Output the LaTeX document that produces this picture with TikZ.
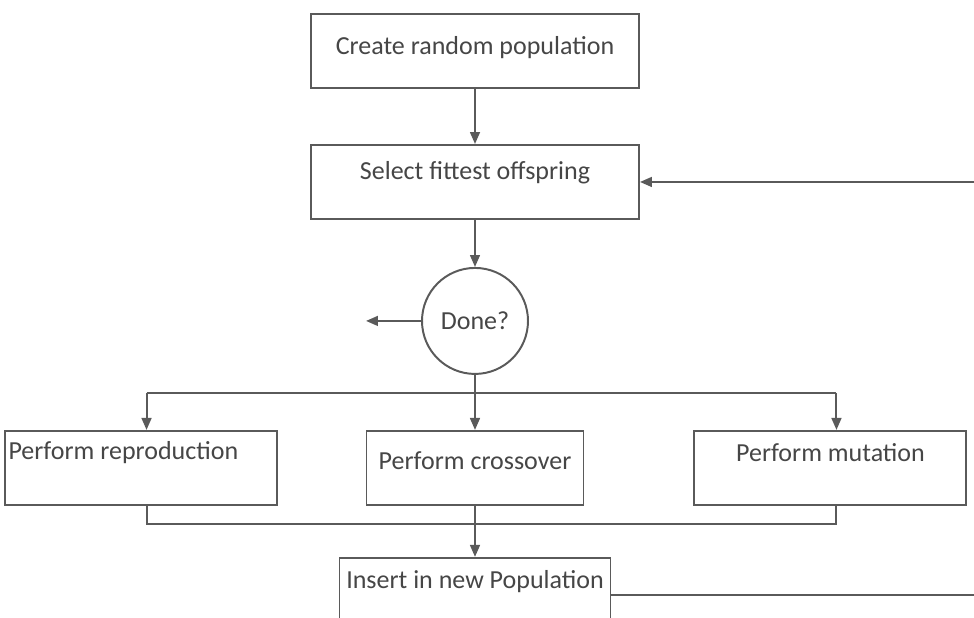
\documentclass[tikz,border=0pt]{standalone}
\usepackage{fontspec}
\setmainfont{Carlito}
\usetikzlibrary{arrows.meta, positioning, calc}
\definecolor{mygray}{RGB}{90,90,90}
\definecolor{mytext}{RGB}{70,70,70}
\tikzset{
  block/.style={rectangle, draw=mygray, fill=white,
    minimum height=1.85cm, inner xsep=0.1cm, inner ysep=0.1cm,
    align=center, text height=0.5cm, text=mytext,
    font=\fontsize{18.5}{22}\selectfont, line width=1.4pt},
  decision/.style={circle, draw=mygray, fill=white,
    minimum size=2.65cm, inner sep=0pt, text=mytext,
    font=\fontsize{18.5}{22}\selectfont, line width=1.4pt},
  arrow/.style={-{Triangle[length=8.5pt,width=7pt]}, line width=1.4pt, color=mygray},
  line/.style={line width=1.4pt, color=mygray}
}

\begin{document}
\begin{tikzpicture}
  \path[use as bounding box, clip] (0,0) rectangle (24.35,-15.45);

  \node[block, minimum width=8.2cm, text depth=0.3cm] (create) at (11.875,-1.275) {Create random population};
  \node[block, minimum width=8.2cm, text depth=0.6cm, below=1.375cm of create] (select) {Select fittest offspring};
  \node[decision, below=1.175cm of select] (done) {Done?};
  \node[block, minimum width=5.425cm, text depth=0.425cm, below=1.375cm of done] (cross) {Perform crossover};
  \node[block, text width=6.6cm, text depth=0.9cm, align=flush left, left=2.2cm of cross] (repro) {Perform reproduction};
  \node[block, minimum width=6.8cm, text depth=0.825cm, right=2.725cm of cross] (mut) {Perform mutation};
  \node[block, minimum width=6.775cm, text depth=0.8cm, below=1.275cm of cross] (insert) {Insert in new Population};

  % helper points
  \coordinate (edge) at (24.35,0);
  \coordinate (exit) at ([xshift=-1.375cm]done.west);
  \coordinate (split) at ([yshift=-0.45cm]done.south);
  \coordinate (join) at ([yshift=-0.45cm]cross.south);
  \coordinate (rtop) at ([xshift=0.15cm]repro.north);
  \coordinate (rbot) at ([xshift=0.15cm]repro.south);
  \coordinate (mtop) at ([xshift=0.15cm]mut.north);
  \coordinate (mbot) at ([xshift=0.15cm]mut.south);

  \draw[arrow] (create) -- (select);
  \draw[arrow] (select) -- (done);
  \draw[arrow] (done.west) -- (exit);

  % fan out to the three operators
  \draw[line] (rtop |- split) -- (mtop |- split);
  \draw[arrow] (done) -- (cross);
  \draw[arrow] (rtop |- split) -- (rtop);
  \draw[arrow] (mtop |- split) -- (mtop);

  % gather results
  \draw[line] (rbot) -- (rbot |- join) -- (mbot |- join) -- (mbot);
  \draw[arrow] (cross) -- (insert);

  % loop back
  \draw[line] (insert.east) -- (insert.east -| edge);
  \draw[arrow] (select.east -| edge) -- (select.east);
\end{tikzpicture}
\end{document}
